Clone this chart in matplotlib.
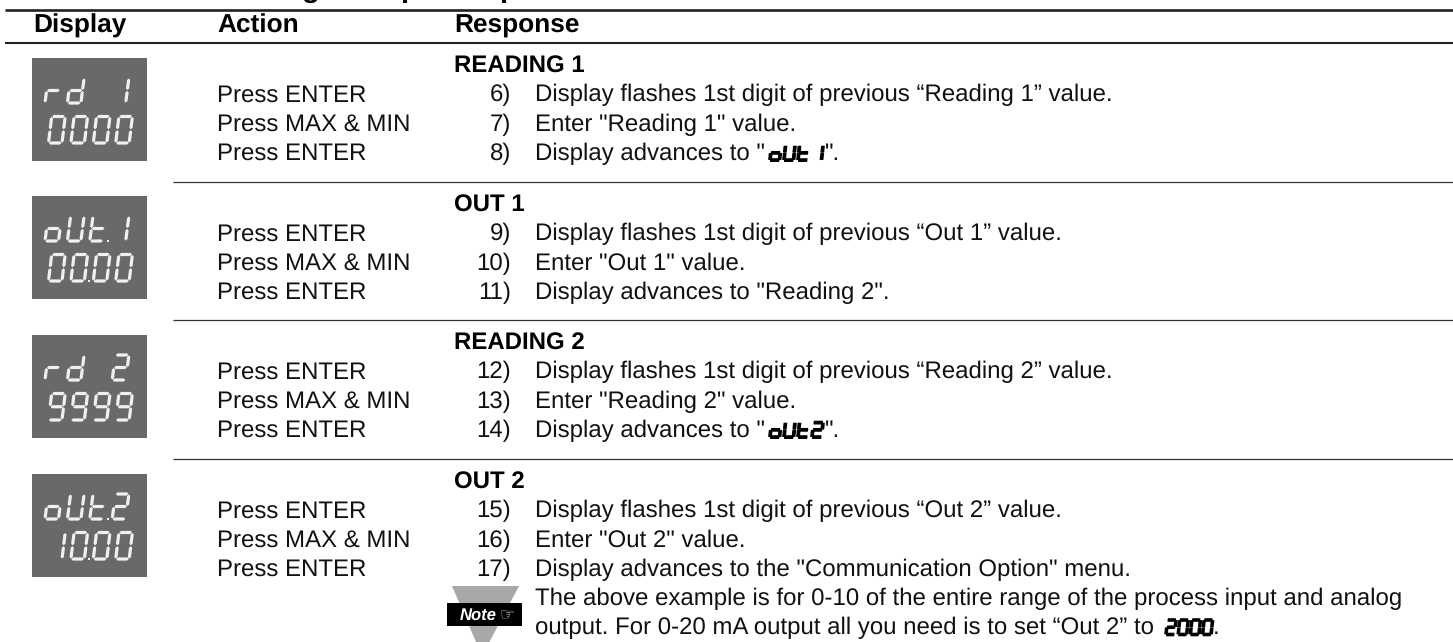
import matplotlib
matplotlib.use("Agg")
import matplotlib.pyplot as plt
from matplotlib.patches import Polygon, Rectangle

plt.rcParams['font.family'] = ['Liberation Sans', 'DejaVu Sans']
plt.rcParams['text.hinting'] = 'no_hinting'

# ---- content ----
headers = ["Display", "Action", "Response"]
section_titles = ["READING 1", "OUT 1", "READING 2", "OUT 2"]
actions = ["Press ENTER", "Press MAX & MIN", "Press ENTER"]
step_numbers = [["6)", "7)", "8)"], ["9)", "10)", "11)"], ["12)", "13)", "14)"], ["15)", "16)", "17)"]]
step_texts = [
    ["Display flashes 1st digit of previous \u201cReading 1\u201d value.", 'Enter "Reading 1" value.', 'Display advances to "'],
    ["Display flashes 1st digit of previous \u201cOut 1\u201d value.", 'Enter "Out 1" value.', 'Display advances to "Reading 2".'],
    ["Display flashes 1st digit of previous \u201cReading 2\u201d value.", 'Enter "Reading 2" value.', 'Display advances to "'],
    ["Display flashes 1st digit of previous \u201cOut 2\u201d value.", 'Enter "Out 2" value.', 'Display advances to the "Communication Option" menu.'],
]
display_top = ["rd 1", "oUt.1", "rd 2", "oUt.2"]
display_bottom = ["0000", "00.00", "9999", "10.00"]
inline_labels = {0: "oUt1", 2: "oUt2"}
note_lines = ["The above example is for 0-10 of the entire range of the process input and analog",
              "output. For 0-20 mA output all you need is to set \u201cOut 2\u201d to"]

# ---- layout (pixels) ----
W, H = 1453, 642
row_heads = [73, 212, 350, 489]
row_rules = [182, 320, 459]
panel_tops = [58, 196, 335, 474]
PANEL_X, PANEL_W, PANEL_H = 32, 115, 103
FS = 17.3
FS_B = 18.9

SEGS = {'0': 'abcdef', '1': 'bc', '2': 'abged', '9': 'abcdfg', 'r': 'eg', 'd': 'bcdeg',
        'o': 'cdeg', 'U': 'bcdef', 't': 'defg', ' ': ''}

fig = plt.figure(figsize=(W / 100, H / 100), dpi=100)
ax = fig.add_axes([0, 0, 1, 1])
ax.set_xlim(0, W)
ax.set_ylim(H, 0)
ax.axis('off')


def seg7(x0, y0, w, h, t, s, gap, on, color, taper):
    xs = lambda x, y: x0 + x + s * (h - y) / h
    L, R, T, M, B = 0, w, 0, h / 2, h
    d = t / 2

    def horiz(y, a, b):
        return [(a + gap, y), (a + gap + taper, y - d), (b - gap - taper, y - d),
                (b - gap, y), (b - gap - taper, y + d), (a + gap + taper, y + d)]

    def vert(x, a, b):
        return [(x, a + gap), (x + d, a + gap + taper), (x + d, b - gap - taper),
                (x, b - gap), (x - d, b - gap - taper), (x - d, a + gap + taper)]

    shapes = {'a': horiz(T, L, R), 'g': horiz(M, L, R), 'd': horiz(B, L, R),
              'f': vert(L, T, M), 'b': vert(R, T, M), 'e': vert(L, M, B), 'c': vert(R, M, B)}
    for k in on:
        ax.add_patch(Polygon([(xs(px, py), y0 + py) for px, py in shapes[k]],
                             closed=True, fc=color, ec='none', zorder=4))


def seg_string(txt, x, y, pitch, w, h, t, s, gap, color, taper, dot=2.0):
    i = 0
    cell = 0
    while i < len(txt):
        ch = txt[i]
        seg7(x + cell * pitch, y, w, h, t, s, gap, SEGS[ch], color, taper)
        i += 1
        if i < len(txt) and txt[i] == '.':
            ax.add_patch(Rectangle((x + cell * pitch + w + (pitch - w) / 2 - dot / 2, y + h - dot + 1),
                                   dot, dot, fc=color, ec='none', zorder=4))
            i += 1
        cell += 1


# ---- title remnant, cropped by the page edge ----
for ch, x in zip("gpp", [302, 400, 499]):
    ax.text(x, -3, ch, fontsize=21, fontweight='bold', va='baseline', ha='left', color='black', clip_on=True)

# ---- rules ----
ax.plot([5, W], [10, 10], color='#222222', lw=1.9, solid_capstyle='butt')
ax.plot([5, W], [42.5, 42.5], color='#222222', lw=1.5, solid_capstyle='butt')
for y in row_rules:
    ax.plot([173, W], [y, y], color='#333333', lw=0.9, solid_capstyle='butt')

# ---- header ----
for txt, x in zip(headers, [33, 217, 454]):
    ax.text(x, 33, txt, fontsize=FS_B, fontweight='bold', va='baseline', ha='left', color='black')

# ---- rows ----
for r in range(4):
    h = row_heads[r]
    ax.text(454, h, section_titles[r], fontsize=FS, fontweight='bold', va='baseline', color='black')
    for i in range(3):
        y = h + 28.5 + i * 29.3
        ax.text(217, y, actions[i], fontsize=FS, va='baseline', color='#111111')
        ax.text(511, y, step_numbers[r][i], fontsize=FS, va='baseline', ha='right', color='#111111')
        ax.text(535, y, step_texts[r][i], fontsize=FS, va='baseline', color='#111111')
    py = panel_tops[r]
    ax.add_patch(Rectangle((PANEL_X, py), PANEL_W, PANEL_H, fc='#696969', ec='none', zorder=3))
    seg_string(display_top[r], 45, py + 20, 22.4, 13.5, 25, 3.2, 3.2, 0.4, '#f0f0f0', 1.6)
    seg_string(display_bottom[r], 48.5, py + 58.5, 22.4, 13.5, 26.5, 3.2, 3.2, 0.4, '#f0f0f0', 1.6)

# ---- inline display glyphs ----
for r, label in inline_labels.items():
    y = row_heads[r] + 28.5 + 2 * 29.3
    seg_string(label, 770, y - 14.5, 14, 9.5, 14.5, 3.8, 1.5, 0.0, 'black', 0.3)
    ax.text(825, y, '".', fontsize=FS, va='baseline', color='#111111')

# ---- note ----
ax.add_patch(Polygon([(452, 586), (519, 586), (482, 656)], closed=True, fc='#a8a8a8', ec='none', zorder=1))
ax.add_patch(Rectangle((447, 603), 75, 23, fc='black', ec='none', zorder=2))
ax.text(460, 620, "Note", fontsize=12, fontweight='bold', style='italic', color='white', va='baseline', zorder=3)
ax.text(500, 620, "\u261e", fontsize=12, color='white', va='baseline', family='DejaVu Sans', zorder=3)
note_y = [605, 634.5]
for txt, y in zip(note_lines, note_y):
    ax.text(535, y, txt, fontsize=FS, va='baseline', color='#111111')
seg_string("2000", 1166, 620, 12.2, 8.5, 14.5, 3.6, 1.5, 0.0, 'black', 0.3)
ax.text(1213, 634.5, ".", fontsize=FS, va='baseline', color='#111111')

fig.savefig("out.png", dpi=100, facecolor='white')
